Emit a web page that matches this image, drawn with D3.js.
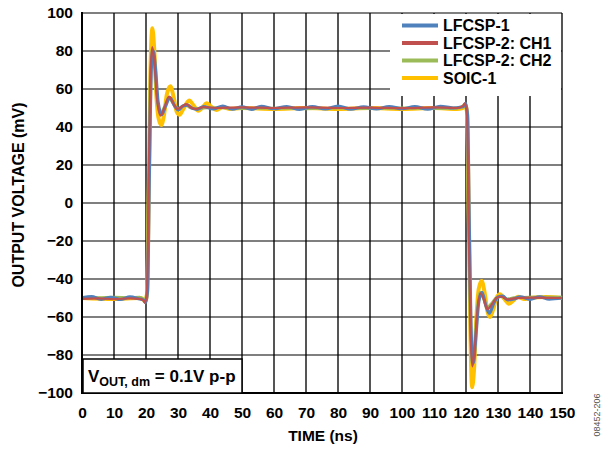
<!DOCTYPE html>
<html><head><meta charset="utf-8">
<script src="https://cdn.jsdelivr.net/npm/d3@7"></script>
<style>
html,body{margin:0;padding:0;background:#fff;}
svg{display:block;font-family:Arial,"Liberation Sans",Helvetica,sans-serif;}
</style></head>
<body>
<svg id="chart" width="601" height="450"></svg>
<script>
// ---- data (time in ns, output voltage in mV) ----
const seriesNames = ["LFCSP-1", "LFCSP-2: CH1", "LFCSP-2: CH2", "SOIC-1"];
const seriesColors = ["#4F81BD", "#C0504D", "#9BBB59", "#FFC000"];
const xTicks = [0,10,20,30,40,50,60,70,80,90,100,110,120,130,140,150];
const yTicks = [-100,-80,-60,-40,-20,0,20,40,60,80,100];

const lfcsp1 = [[0,-50],[3,-49.3],[6,-50.7],[9,-49.6],[12,-50.8],[15,-49.4],[18,-50.5],[19.2,-51],[19.9,-52.5],[20.5,-46],[21.1,20],[21.7,72],[22.3,80],[23,70],[23.8,53],[24.9,46.5],[26.1,51],[27.5,55.5],[28.8,51.5],[30.1,49],[31.5,51],[33,51.5],[34.5,49.8],[36,49.3],[38,50.8],[41,49.5],[44,51],[47,49.4],[50,50.6],[53,49.3],[56,50.9],[60,49.6],[64,50.8],[68,49.3],[72,50.7],[76,49.5],[80,51],[84,49.4],[88,50.6],[92,49.5],[96,50.8],[100,49.6],[104,50.7],[108,49.4],[112,50.9],[116,50],[118.5,50.5],[119.3,51],[119.9,52.5],[120.5,46],[121.1,-20],[121.7,-72],[122.3,-84],[123.1,-70],[124,-52],[125,-47],[126.2,-54],[127.3,-58],[128.6,-53],[130,-49.5],[131.5,-49],[133,-51],[135,-50.5],[137,-49.4],[140,-50.7],[143,-49.4],[146,-50.6],[150,-50]];

const lfcsp2ch1 = [[0,-50.5],[5,-50.2],[10,-50.6],[15,-50.2],[18,-50.5],[19.2,-51.2],[19.7,-52.5],[20.3,-46],[20.9,18],[21.5,72],[22,82],[22.7,72],[23.5,54],[24.6,46],[25.8,50.5],[27.2,56],[28.5,52.5],[29.8,49.5],[31,50.5],[32.5,52],[34,50.3],[35.5,49.5],[38,50.5],[42,50],[50,50.3],[60,50],[70,50.3],[80,50],[90,50.2],[100,49.9],[110,50.3],[117,50],[119,51],[119.7,52.5],[120.3,46],[120.9,-18],[121.5,-72],[122,-86],[122.7,-77],[123.5,-58],[124.5,-47.5],[125.5,-50.5],[126.7,-56],[128,-53.5],[129.5,-50],[131,-49.2],[133,-50.8],[135,-50.2],[140,-49.8],[150,-50]];

const lfcsp2ch2 = [[0,-49.5],[5,-49.8],[10,-49.5],[15,-49.8],[18,-49.6],[19.2,-50.8],[19.6,-52],[20.2,-47],[20.8,14],[21.4,70],[21.95,81],[22.6,73],[23.4,55],[24.5,47],[25.7,50.5],[27.1,55.5],[28.4,52.5],[29.7,49.5],[31,50.5],[32.5,51.5],[34,50],[36,49.6],[40,50.2],[50,49.7],[60,49.9],[70,49.6],[80,49.9],[90,49.7],[100,50],[110,49.7],[117,50],[119,50.8],[119.6,52],[120.2,47],[120.8,-14],[121.4,-70],[121.95,-85],[122.6,-77],[123.4,-58],[124.4,-47],[125.4,-50],[126.6,-55],[127.9,-53],[129.4,-50],[131,-49.3],[133,-50.5],[135,-49.8],[140,-49.5],[150,-49.6]];

const soic1 = [[0,-50],[10,-50.5],[18,-50],[19,-50.5],[19.7,-52],[20.3,-48],[20.9,10],[21.4,70],[22,92],[22.6,80],[23.3,55],[24,44],[24.8,41],[25.6,46],[26.5,57],[27.6,61.5],[28.6,56],[29.6,48],[30.5,46.5],[31.5,49],[33.5,54],[35,51],[36.3,48.5],[37.5,50],[39,52.5],[40.5,50.5],[42,49],[44,50.5],[46,49.5],[50,50],[60,49.5],[70,50],[80,49.5],[90,50],[100,49.5],[110,50],[117,49.5],[119,50],[119.7,52],[120.3,48],[120.9,-10],[121.4,-70],[121.9,-97],[122.5,-88],[123.2,-62],[124,-45],[124.9,-41],[125.8,-47],[126.7,-57],[127.5,-60],[128.5,-56],[129.5,-50],[130.6,-48],[132,-50.5],[133.4,-53],[135,-51],[136.2,-49.3],[138,-50.5],[140,-50],[145,-49.5],[150,-50]];

const seriesData = [lfcsp1, lfcsp2ch1, lfcsp2ch2, soic1];
const seriesWidths = [3.2, 2.2, 2.8, 4];
const drawOrder = [3, 2, 0, 1];

// ---- layout ----
const L = 82, R = 562, T = 13, B = 393;
const svg = d3.select("#chart");
const x = d3.scaleLinear().domain([0,150]).range([L,R]);
const y = d3.scaleLinear().domain([-100,100]).range([B,T]);
const FONT = 15.5;

// vertical gridlines (gray, thicker)
svg.append("g").selectAll("line").data(xTicks.filter(d=>d>0)).join("line")
  .attr("x1",d=>x(d)).attr("x2",d=>x(d)).attr("y1",T).attr("y2",B)
  .attr("stroke","#555").attr("stroke-width",2);
// horizontal gridlines (black, thin)
svg.append("g").selectAll("line").data(yTicks.filter(d=>d>-100)).join("line")
  .attr("x1",L).attr("x2",R).attr("y1",d=>y(d)).attr("y2",d=>y(d))
  .attr("stroke","#000").attr("stroke-width",1.2);

// series lines
const line = d3.line().x(d=>x(d[0])).y(d=>y(d[1])).curve(d3.curveMonotoneX);
drawOrder.forEach(i=>{
  svg.append("path").datum(seriesData[i]).attr("d",line)
    .attr("fill","none").attr("stroke",seriesColors[i])
    .attr("stroke-width",seriesWidths[i]).attr("stroke-linejoin","round");
});

// axes (left and bottom frame)
const yAxis = d3.axisLeft(y).tickValues(yTicks).tickSize(0).tickPadding(9)
  .tickFormat(d=> d<0 ? "\u2212"+Math.abs(d) : String(d));
const gy = svg.append("g").attr("transform",`translate(${L},0)`).call(yAxis);
const xAxis = d3.axisBottom(x).tickValues(xTicks).tickSize(0).tickPadding(14);
const gx = svg.append("g").attr("transform",`translate(0,${B})`).call(xAxis);
[gx,gy].forEach(g=>{
  g.select(".domain").remove();
  g.selectAll("text").attr("font-size",FONT).attr("font-weight","bold")
    .attr("fill","#000").attr("font-family","Arial, 'Liberation Sans', sans-serif");
});
svg.append("line").attr("x1",L).attr("x2",L).attr("y1",T-1).attr("y2",B+1)
  .attr("stroke","#000").attr("stroke-width",2);
svg.append("line").attr("x1",L-1).attr("x2",R+1).attr("y1",B).attr("y2",B)
  .attr("stroke","#000").attr("stroke-width",2);

// legend
const lg = svg.append("g");
lg.append("rect").attr("x",390).attr("y",T+1).attr("width",R-390-1).attr("height",96-T-1).attr("fill","#fff");
const rowY = [25.5, 43, 60.5, 78];
seriesNames.forEach((n,i)=>{
  lg.append("line").attr("x1",402).attr("x2",438).attr("y1",rowY[i]).attr("y2",rowY[i])
    .attr("stroke",seriesColors[i]).attr("stroke-width",4);
  lg.append("text").attr("x",443).attr("y",rowY[i]+5.5).text(n)
    .attr("font-size",16).attr("font-weight","bold").attr("fill","#000");
});

// annotation box
const ab = svg.append("g");
ab.append("rect").attr("x",L+1).attr("y",359).attr("width",242-L-1).attr("height",B-359)
  .attr("fill","#fff").attr("stroke","#000").attr("stroke-width",1.5);
const at = ab.append("text").attr("x",88).attr("y",382).attr("font-weight","bold").attr("font-size",17).attr("fill","#000");
at.append("tspan").text("V");
at.append("tspan").attr("font-size",12.5).attr("dy",4).text("OUT, dm");
at.append("tspan").attr("dy",-4).text(" = 0.1V p-p");

// axis titles
svg.append("text").attr("x",323).attr("y",441).attr("text-anchor","middle")
  .attr("font-size",FONT).attr("font-weight","bold").text("TIME (ns)");
svg.append("text").attr("transform","translate(24,195) rotate(-90)").attr("text-anchor","middle")
  .attr("font-size",16).attr("font-weight","bold").text("OUTPUT VOLTAGE (mV)");

// figure id
svg.append("text").attr("transform","translate(600,415) rotate(-90)").attr("text-anchor","middle")
  .attr("font-size",9).attr("fill","#555").text("08452-206");
</script>
</body></html>
